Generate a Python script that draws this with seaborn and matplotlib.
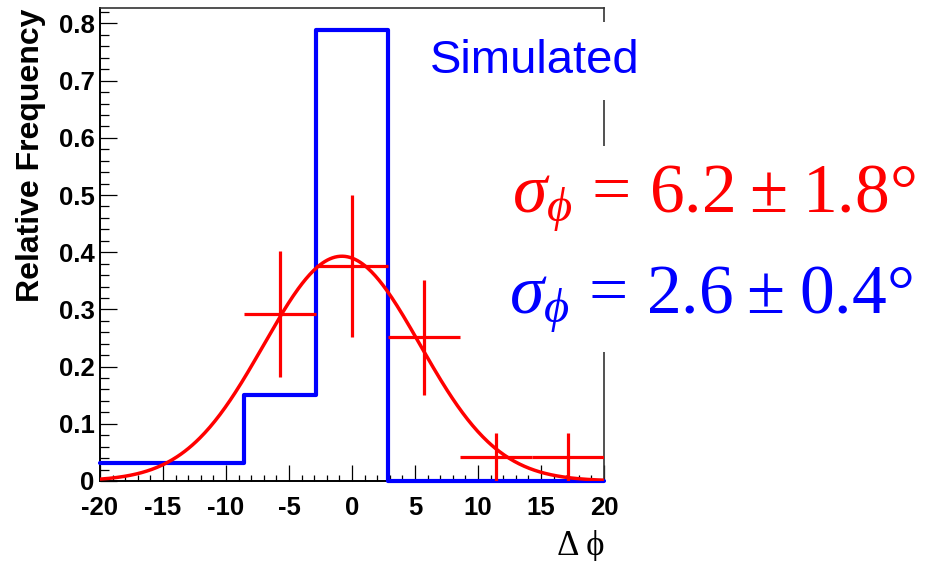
import numpy as np
import pandas as pd
import matplotlib
matplotlib.use("Agg")
import matplotlib.pyplot as plt
from matplotlib.ticker import MultipleLocator
import seaborn as sns

# ---------------- data ----------------
bin_edges = np.linspace(-20, 20, 8)              # 7 bins of width 40/7
bin_centers = 0.5 * (bin_edges[:-1] + bin_edges[1:])
simulated = [0.032, 0.032, 0.150, 0.788, 0.0, 0.0, 0.0]
measured = [0.0, 0.0, 0.292, 0.376, 0.251, 0.042, 0.042]
measured_err = [0.0, 0.0, 0.110, 0.124, 0.100, 0.042, 0.042]
# Gaussian fit to measured data
fit_amp, fit_mean, fit_sigma = 0.393, -0.8, 6.2

x_ticks = [-20, -15, -10, -5, 0, 5, 10, 15, 20]
y_ticks = [0, 0.1, 0.2, 0.3, 0.4, 0.5, 0.6, 0.7, 0.8]
y_tick_labels = ["0", "0.1", "0.2", "0.3", "0.4", "0.5", "0.6", "0.7", "0.8"]

# ---------------- style ----------------
sns.set_theme(style="ticks")
plt.rcParams["font.family"] = ["Liberation Sans", "DejaVu Sans"]
plt.rcParams["mathtext.fontset"] = "custom"
plt.rcParams["mathtext.rm"] = "Liberation Serif"
plt.rcParams["mathtext.it"] = "Liberation Serif:italic"
plt.rcParams["mathtext.fallback"] = "stix"

fig = plt.figure(figsize=(9.3, 5.61), dpi=100)
ax = fig.add_axes([100 / 930, 80 / 561, 504 / 930, 473 / 561])

RED = "#ff0000"
BLUE = "#0000ff"

# simulated histogram (step outline)
sim_df = pd.DataFrame({"x": bin_centers, "w": simulated})
sns.histplot(data=sim_df, x="x", weights="w", bins=list(bin_edges), element="step",
             fill=False, color=BLUE, linewidth=3.0, ax=ax)
for ln in ax.lines:
    ln.set_clip_on(False)
    ln.set_zorder(3)

# fit curve
xs = np.linspace(-20, 20, 400)
fit_df = pd.DataFrame({"x": xs,
                       "y": fit_amp * np.exp(-0.5 * ((xs - fit_mean) / fit_sigma) ** 2)})
sns.lineplot(data=fit_df, x="x", y="y", color=RED, linewidth=2.5, ax=ax,
             sort=False, errorbar=None, zorder=4)

# measured points with error bars
meas = np.array(measured)
mask = meas > 0
half_w = (bin_edges[1] - bin_edges[0]) / 2
ax.errorbar(bin_centers[mask], meas[mask], xerr=half_w,
            yerr=np.array(measured_err)[mask], fmt="none", ecolor=RED,
            elinewidth=2.3, capsize=0, zorder=5)

# ---------------- axes ----------------
ax.set_xlim(-20, 20)
ax.set_ylim(0, 0.827)
ax.set_xticks(x_ticks)
ax.set_xticklabels([str(t) for t in x_ticks])
ax.set_yticks(y_ticks)
ax.set_yticklabels(y_tick_labels)
ax.xaxis.set_minor_locator(MultipleLocator(1))
ax.yaxis.set_minor_locator(MultipleLocator(0.02))
ax.tick_params(axis="both", which="both", direction="in", colors="black",
               top=False, right=False, width=0.9)
ax.tick_params(axis="x", which="major", length=11.3, pad=10.5)
ax.tick_params(axis="x", which="minor", length=4.5)
ax.tick_params(axis="y", which="major", length=12, pad=4)
ax.tick_params(axis="y", which="minor", length=6.7)
for lab in ax.get_xticklabels() + ax.get_yticklabels():
    lab.set_fontweight("bold")
    lab.set_fontsize(18.5)

for side in ["left", "bottom"]:
    ax.spines[side].set_color("black")
    ax.spines[side].set_linewidth(1.4)
for side in ["top", "right"]:
    ax.spines[side].set_visible(True)
    ax.spines[side].set_color("#333333")
    ax.spines[side].set_linewidth(1.2)

ax.set_ylabel("Relative Frequency", fontsize=23, fontweight="bold",
              color="black", va="center")
ax.yaxis.set_label_coords(-0.136, 0.688)
ax.set_xlabel("Δ ϕ", fontsize=25, color="black",
              family=["Liberation Serif", "DejaVu Serif"], ha="right", va="center")
ax.xaxis.set_label_coords(1.0, -0.138)

# ---------------- annotations ----------------
fig.text(430 / 930, 1 - 61 / 561, "Simulated", color=BLUE, fontsize=34,
         ha="left", va="center",
         bbox=dict(boxstyle="square,pad=0.35", facecolor="white", edgecolor="none"))
fig.text(714 / 930, 1 - 212 / 561,
         r"$\sigma_{\phi}\,=\,6.2\hspace{0.08}\pm\hspace{0.08}1.8°$", color=RED,
         fontsize=50, ha="center", va="baseline",
         bbox=dict(boxstyle="square,pad=0.25", facecolor="white", edgecolor="none"))
fig.text(711 / 930, 1 - 313 / 561,
         r"$\sigma_{\phi}\,=\,2.6\hspace{0.08}\pm\hspace{0.08}0.4°$", color=BLUE,
         fontsize=50, ha="center", va="baseline",
         bbox=dict(boxstyle="square,pad=0.25", facecolor="white", edgecolor="none"))

fig.savefig("out.png", dpi=100, facecolor="white")
